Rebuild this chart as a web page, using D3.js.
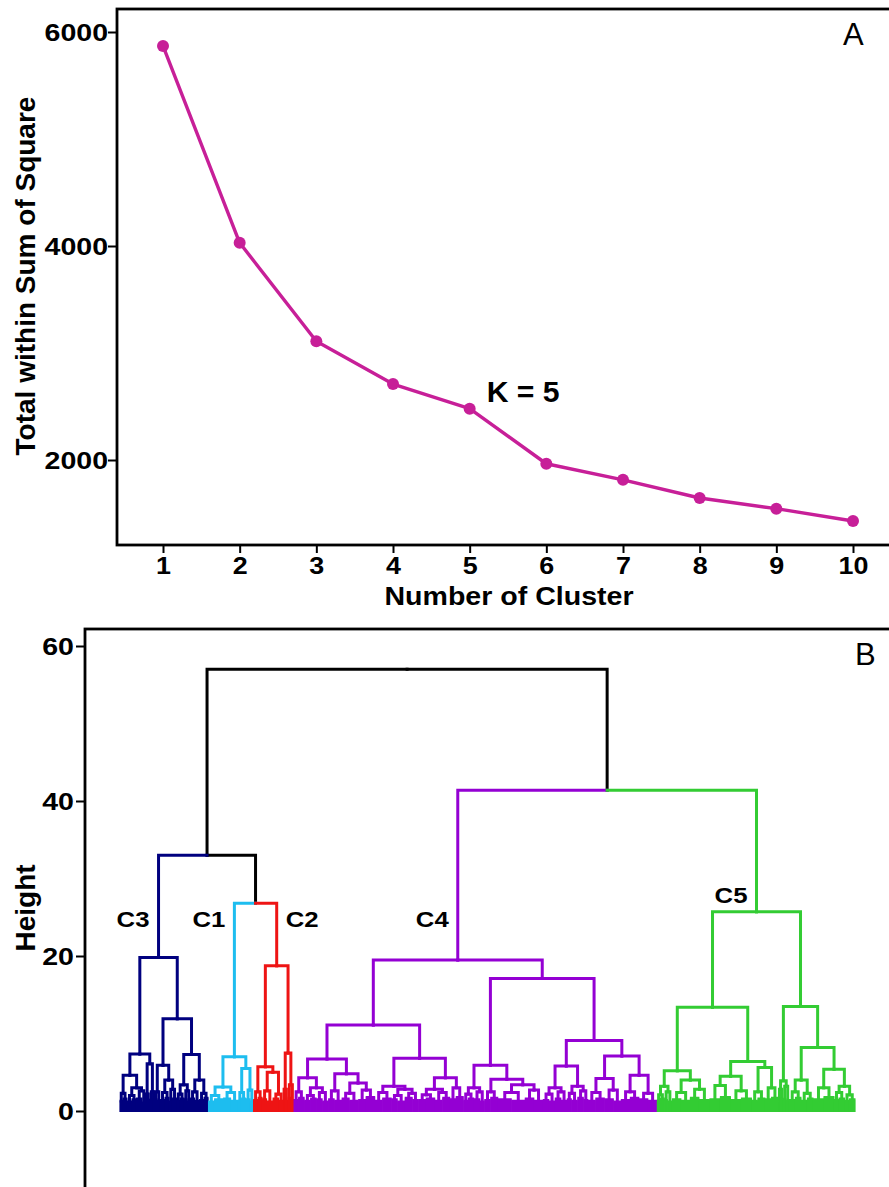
<!DOCTYPE html>
<html>
<head>
<meta charset="utf-8">
<script src="https://cdn.jsdelivr.net/npm/d3@7"></script>
<style>
  body { margin: 0; background: #fff; }
  svg { display: block; }
  text { font-family: "Liberation Sans", Arial, Helvetica, sans-serif; fill: #000; }
</style>
</head>
<body>
<svg id="chart" width="889" height="1187"></svg>
<script>
// ---------- Panel A: elbow curve ----------
const clusterCounts = [1, 2, 3, 4, 5, 6, 7, 8, 9, 10];
const withinSS = [5870, 4030, 3110, 2710, 2480, 1965, 1815, 1645, 1545, 1430];
const ssTicks = [2000, 4000, 6000];
const elbowNote = "K = 5";

// ---------- Panel B: hierarchical clustering dendrogram ----------
// merge node = [height, left, right]; leaf bundle = [height, leafCount]
const clusterC3 = [19.8,
  [7.35,
    [4.6,
      [2.3, [1.3, 2], [1.6, 3]],
      [3.0, [2.0, [1.2, 3], [1.5, 3]], [2.6, [1.6, 4], [1.1, 2]]]],
    [6.1, [2.2, [1.0, 1], [1.4, 2]], [2.5, [1.5, 2], [1.2, 1]]]],
  [11.9,
    [5.9,
      [2.5, [1.5, 2], [1.3, 2]],
      [4.0, [2.4, [1.4, 3], [1.7, 3]], [2.8, [1.2, 2], [1.6, 3]]]],
    [7.3,
      [3.4, [2.2, [1.3, 2], [1.6, 3]], [2.6, [1.5, 2], [1.2, 2]]],
      [4.0, [2.5, [1.6, 3], [1.3, 3]], [2.3, [1.4, 3], [1.7, 3]]]]]];

const clusterC1 = [7.0,
  [3.1, [2.0, [1.2, 4], [1.5, 6]], [2.4, [1.6, 5], [1.3, 5]]],
  [5.5, [2.4, [1.3, 2], [1.6, 3]], [2.7, [1.5, 3], [1.2, 2]]]];

const clusterC2 = [18.75,
  [5.7,
    [2.5, [1.4, 3], [1.7, 3]],
    [5.0, [2.6, [1.5, 3], [1.2, 4]], [2.2, [1.6, 4], [1.3, 3]]]],
  [7.5, [2.8, [1.5, 1], [1.3, 2]], [3.4, [1.7, 2], [1.4, 2]]]];

const clusterC4 = [19.5,
  [11.1,
    [6.7,
      [4.3, [2.5, [1.4, 3], [1.7, 4]],
            [3.0, [2.0, [1.3, 4], [1.6, 4]], [2.4, [1.5, 4], [1.2, 4]]]],
      [4.8, [2.6, [1.5, 4], [1.3, 5]],
            [3.6, [2.3, [1.6, 5], [1.3, 6]], [2.7, [1.4, 5], [1.8, 6]]]]],
    [6.8,
      [3.2, [2.4, [1.3, 5], [1.6, 6]],
            [2.8, [2.0, [1.5, 4], [1.2, 5]], [2.3, [1.7, 5], [1.4, 4]]]],
      [4.3, [2.8, [2.1, [1.4, 5], [1.6, 6]], [2.4, [1.3, 5], [1.7, 5]]],
            [3.0, [1.5, 4], [1.8, 5]]]]],
  [17.1,
    [5.9,
      [3.0, [2.2, [1.3, 3], [1.6, 4]], [2.5, [1.5, 4], [1.2, 3]]],
      [4.1, [2.5, [1.4, 4], [1.7, 5]],
            [3.4, [2.4, [1.5, 9], [1.3, 9]], [2.7, [1.6, 6], [1.3, 6]]]]],
    [9.1,
      [5.8, [3.0, [2.2, [1.4, 4], [1.2, 4]], [2.5, [1.6, 4], [1.3, 4]]],
            [3.2, [2.3, [1.5, 3], [1.3, 4]], [2.6, [1.7, 4], [1.4, 3]]]],
      [7.1, [4.2, [2.4, [1.3, 5], [1.6, 6]], [2.7, [1.5, 6], [1.2, 5]]],
            [4.6, [2.5, [1.4, 6], [1.7, 6]], [2.3, [1.5, 6], [1.3, 6]]]]]]];

const clusterC5 = [25.7,
  [13.4,
    [5.2, [3.2, [2.1, [1.3, 2], [1.6, 3]], [2.5, [1.4, 2], [1.2, 3]]],
          [4.0, [2.4, [1.5, 6], [1.3, 6]], [2.8, [1.7, 6], [1.4, 7]]]],
    [6.4, [4.5, [3.3, [1.5, 7], [1.8, 7]], [2.6, [1.4, 7], [1.6, 7]]],
          [5.6, [2.5, [1.3, 4], [1.6, 5]], [3.0, [1.5, 4], [1.7, 5]]]]],
  [13.5,
    [3.9, [2.8, [1.4, 1], [1.6, 2]], [3.2, [1.5, 2], [1.3, 2]]],
    [8.2, [4.0, [2.5, [1.4, 4], [1.7, 4]], [2.3, [1.3, 4], [1.6, 4]]],
          [5.4, [3.0, [1.5, 7], [1.8, 7]],
                [3.2, [2.4, [1.4, 3], [1.6, 4]], [2.1, [1.3, 3], [1.5, 4]]]]]]];

// heights of the merges above the five clusters: root, C3+(C1,C2), C1+C2, C4+C5
const upperMerges = [57.0, 33.0, 26.8, 41.4];
const clusterNames = ["C3", "C1", "C2", "C4", "C5"];
const clusterColors = ["#00007F", "#1DBDEF", "#EE1414", "#9400D3", "#33CC33"];
const heightTicks = [0, 20, 40, 60];

const svg = d3.select("#chart");
const FONT_STRETCH = 1.12;

// horizontal text with a slightly widened face
function hText(g, x, y, str, size, weight, anchor, sx) {
  return g.append("text")
    .attr("transform", `translate(${x},${y}) scale(${sx || FONT_STRETCH},1)`)
    .attr("text-anchor", anchor || "start")
    .style("font-size", size + "px")
    .style("font-weight", weight)
    .text(str);
}

// ================= Panel A =================
const gA = svg.append("g");
const xA = d3.scaleLinear().domain([1, 10]).range([163, 853]);
const yA = d3.scaleLinear().domain([2000, 6000]).range([460, 32]);

gA.append("rect")
  .attr("x", 117).attr("y", 9).attr("width", 820).attr("height", 536)
  .attr("fill", "none").attr("stroke", "#000").attr("stroke-width", 2.8);

const axYA = gA.append("g").attr("transform", "translate(117,0)")
  .call(d3.axisLeft(yA).tickValues(ssTicks).tickSize(9).tickPadding(0).tickFormat(d3.format("d")));
const axXA = gA.append("g").attr("transform", "translate(0,545)")
  .call(d3.axisBottom(xA).tickValues(clusterCounts).tickSize(8).tickPadding(4).tickFormat(d3.format("d")));

[axYA, axXA].forEach(ax => {
  ax.select(".domain").remove();
  ax.selectAll(".tick line").attr("stroke", "#000").attr("stroke-width", 2);
  ax.selectAll(".tick text")
    .style("font-size", "24px").style("font-weight", "bold")
    .attr("fill", "#000");
});
axYA.selectAll(".tick text").attr("x", null).attr("dy", "0.36em")
  .attr("transform", `translate(-9,0) scale(${FONT_STRETCH + 0.07},1)`);
axXA.selectAll(".tick text").attr("transform", `scale(${FONT_STRETCH},1)`);

const magenta = "#C71F98";
const elbowPts = clusterCounts.map((k, i) => [k, withinSS[i]]);
gA.append("path")
  .datum(elbowPts)
  .attr("fill", "none").attr("stroke", magenta).attr("stroke-width", 3.4)
  .attr("stroke-linejoin", "round")
  .attr("d", d3.line().x(d => xA(d[0])).y(d => yA(d[1])));
gA.selectAll("circle.pt")
  .data(elbowPts)
  .join("circle").attr("class", "pt")
  .attr("cx", d => xA(d[0])).attr("cy", d => yA(d[1]))
  .attr("r", 6).attr("fill", magenta);

hText(gA, xA(5) + 17, yA(withinSS[4]) - 7, elbowNote, 29, "bold", "start", 1.04);
hText(gA, 843, 45, "A", 31, "normal", "start", 1.0);
hText(gA, 509, 605, "Number of Cluster", 25.5, "bold", "middle");
gA.append("text")
  .attr("transform", "translate(35,276) rotate(-90)")
  .attr("text-anchor", "middle")
  .style("font-size", "28px").style("font-weight", "bold")
  .text("Total within Sum of Square");

// ================= Panel B =================
const gB = svg.append("g");
const yB = d3.scaleLinear().domain([0, 60]).range([1111, 646]);

gB.append("rect")
  .attr("x", 85).attr("y", 629).attr("width", 840).attr("height", 620)
  .attr("fill", "none").attr("stroke", "#000").attr("stroke-width", 2.8);

const axYB = gB.append("g").attr("transform", "translate(85,0)")
  .call(d3.axisLeft(yB).tickValues(heightTicks).tickSize(9).tickPadding(0));
axYB.select(".domain").remove();
axYB.selectAll(".tick line").attr("stroke", "#000").attr("stroke-width", 2);
axYB.selectAll(".tick text")
  .style("font-size", "24px").style("font-weight", "bold").attr("fill", "#000")
  .attr("x", null).attr("dy", "0.36em")
  .attr("transform", `translate(-11,0) scale(${FONT_STRETCH + 0.07},1)`);

gB.append("text")
  .attr("transform", "translate(35,908) rotate(-90)")
  .attr("text-anchor", "middle")
  .style("font-size", "28px").style("font-weight", "bold")
  .text("Height");
hText(gB, 855, 665, "B", 31, "normal", "start", 1.0);

// build the tree
function toNode(a, cluster) {
  if (typeof a[1] === "number") return { h: a[0], n: a[1], cluster };
  return { h: a[0], cluster, children: [toNode(a[1], cluster), toNode(a[2], cluster)] };
}
const tops = [clusterC3, clusterC1, clusterC2, clusterC4, clusterC5].map((c, i) => toNode(c, i));
const treeData = {
  h: upperMerges[0], cluster: null, children: [
    { h: upperMerges[1], cluster: null, children: [
      tops[0],
      { h: upperMerges[2], cluster: null, children: [tops[1], tops[2]] }] },
    { h: upperMerges[3], cluster: null, children: [tops[3], tops[4]] }]
};
const root = d3.hierarchy(treeData);

let leafIndex = 0;
root.leaves().forEach(l => { l.start = leafIndex; leafIndex += l.data.n; });
const totalLeaves = leafIndex;
const xB = d3.scaleLinear().domain([0, totalLeaves - 1]).range([120.5, 854.5]);
root.eachAfter(d => {
  d.x = d.children ? (d.children[0].x + d.children[1].x) / 2
                   : xB(d.start + (d.data.n - 1) / 2);
});
const colorOf = d => d.data.cluster == null ? "#000" : clusterColors[d.data.cluster];

const links = root.descendants().filter(d => d.parent);
const gLinks = gB.append("g").attr("fill", "none")
  .attr("stroke-width", 3).attr("stroke-linecap", "square");
// black upper branches first, coloured cluster branches on top
links.sort((a, b) => (a.data.cluster == null ? 0 : 1) - (b.data.cluster == null ? 0 : 1));
gLinks.selectAll("path.link")
  .data(links).join("path").attr("class", "link")
  .attr("stroke", colorOf)
  .attr("d", d => `M${d.parent.x},${yB(d.parent.data.h)}H${d.x}V${yB(d.data.h)}`);

// leaf bundles: one bar across the bundle and a drop to zero for every leaf
const bundles = root.leaves();
gLinks.selectAll("path.bundle")
  .data(bundles).join("path").attr("class", "bundle")
  .attr("stroke", colorOf).attr("stroke-width", 2.2).attr("stroke-linecap", "butt")
  .attr("d", d => {
    const y0 = yB(0), yh = yB(d.data.h);
    let p = `M${xB(d.start) - 1},${yh}H${xB(d.start + d.data.n - 1) + 1}`;
    for (let i = 0; i < d.data.n; i++) p += `M${xB(d.start + i)},${yh}V${y0 + 1}`;
    return p;
  });

// cluster labels beside each cluster's top branch
const labelLift = [23.7, 23.7, 23.7, 23.7, 26.8];
tops.forEach((t, i) => {
  const node = root.descendants().find(d => d.data === t);
  const right = clusterNames[i] === "C2";
  hText(gB, right ? node.x + 9 : node.x - 9, yB(labelLift[i]), clusterNames[i],
        23, "bold", right ? "start" : "end", 1.12);
});
</script>
</body>
</html>
